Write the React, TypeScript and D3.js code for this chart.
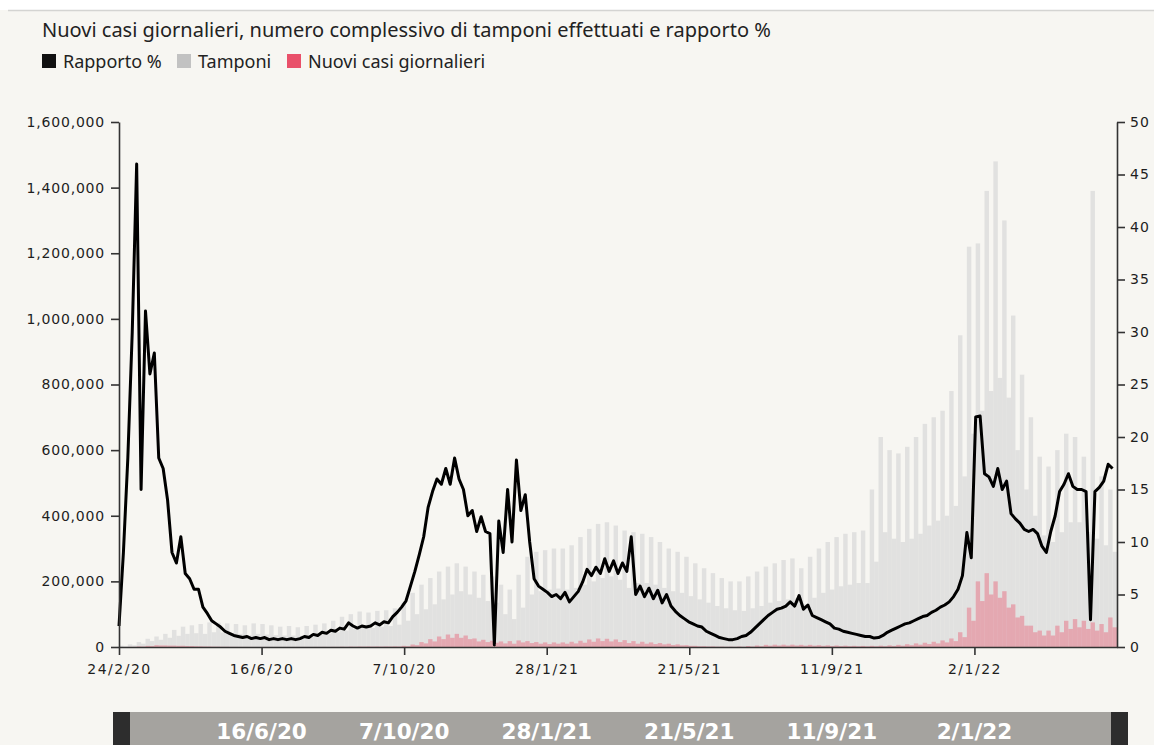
import React, { useEffect, useRef } from 'react';
import * as d3 from 'd3';

// half-week samples starting 24/2/2020 (weekday value, weekend value)
const START = '2020-02-24';
const END = '2022-04-25';
const STEP_DAYS = 3.5;

const xTickDates = ['2020-02-24', '2020-06-16', '2020-10-07', '2021-01-28', '2021-05-21', '2021-09-11', '2022-01-02'];
const xTickLabels = ['24/2/20', '16/6/20', '7/10/20', '28/1/21', '21/5/21', '11/9/21', '2/1/22'];
const leftTicks = [0, 200000, 400000, 600000, 800000, 1000000, 1200000, 1400000, 1600000];
const rightTicks = [0, 5, 10, 15, 20, 25, 30, 35, 40, 45, 50];

// tamponi, thousands
const tamponi = [
  4, 2, 8, 5, 15, 10, 25, 18,
  32, 22, 40, 28, 52, 34, 62, 40,
  66, 42, 70, 40, 75, 45, 74, 44,
  72, 42, 70, 40, 66, 36, 72, 40,
  70, 38, 66, 36, 62, 35, 64, 35,
  60, 34, 64, 36, 68, 38, 72, 40,
  80, 45, 92, 50, 100, 55, 108, 60,
  105, 58, 110, 62, 112, 64, 118, 68,
  135, 80, 165, 100, 190, 115, 210, 130,
  230, 145, 245, 160, 255, 170, 245, 160,
  230, 150, 220, 140, 215, 135, 190, 100,
  175, 85, 220, 120, 275, 160, 290, 170,
  295, 175, 300, 178, 300, 175, 310, 180,
  335, 190, 360, 200, 375, 210, 380, 215,
  370, 205, 355, 180, 350, 195, 345, 195,
  335, 190, 320, 180, 300, 170, 290, 165,
  275, 155, 255, 145, 240, 135, 225, 125,
  210, 118, 200, 112, 200, 110, 215, 118,
  230, 125, 245, 135, 255, 140, 265, 145,
  270, 148, 240, 130, 275, 150, 300, 165,
  320, 175, 335, 185, 345, 190, 350, 195,
  355, 195, 480, 260, 640, 350, 600, 330,
  590, 320, 610, 330, 640, 345, 680, 370,
  700, 385, 720, 400, 780, 430, 950, 520,
  1220, 650, 1230, 720, 1390, 780, 1480, 820,
  1300, 760, 1010, 600, 830, 480, 700, 400,
  580, 340, 550, 320, 600, 350, 650, 380,
  640, 380, 580, 350, 1390, 330, 520, 310,
  480, 290,
];

// nuovi casi, thousands
const casi = [
  0.1, 0.1, 0.5, 0.4, 1.8, 1.5, 3.5, 3.0,
  5.5, 4.8, 4.8, 4.2, 4.2, 3.6, 3.8, 3.0,
  3.0, 2.3, 2.1, 1.6, 1.5, 1.1, 1.0, 0.7,
  0.7, 0.5, 0.5, 0.35, 0.35, 0.3, 0.3, 0.25,
  0.3, 0.2, 0.25, 0.2, 0.22, 0.18, 0.2, 0.15,
  0.25, 0.18, 0.3, 0.22, 0.35, 0.25, 0.4, 0.3,
  0.55, 0.4, 0.9, 0.6, 1.3, 0.9, 1.5, 1.2,
  1.6, 1.3, 1.6, 1.3, 1.7, 1.4, 1.9, 1.5,
  3.5, 2.5, 7.5, 5.5, 15, 11, 24, 17,
  32, 24, 38, 28, 40, 28, 35, 24,
  26, 17, 22, 15, 19, 13, 17, 11,
  18, 10, 20, 14, 18, 12, 15, 10,
  14, 9, 14, 10, 14, 10, 16, 11,
  19, 13, 23, 16, 26, 18, 25, 17,
  23, 15, 21, 12, 18, 10, 16, 10,
  14, 9, 12, 8, 10, 6, 8, 5,
  5.5, 3.5, 3.5, 2.2, 2.5, 1.5, 1.8, 1.0,
  1.2, 0.7, 1.0, 0.6, 1.5, 0.8, 3.0, 1.5,
  4.5, 2.5, 6.5, 4, 7, 4.5, 7, 4.5,
  7, 4.5, 6.5, 4, 6.5, 4, 5.5, 3.5,
  5, 3, 4.5, 2.8, 4, 2.5, 3.5, 2.2,
  3.2, 2, 3.5, 2.2, 4, 2.5, 5, 3.2,
  6.5, 4, 8.5, 5.5, 11, 7, 13, 9,
  16, 11, 20, 14, 26, 18, 45, 30,
  120, 80, 200, 140, 225, 160, 200, 150,
  170, 120, 130, 90, 95, 65, 65, 45,
  50, 35, 50, 35, 65, 45, 80, 55,
  85, 60, 80, 55, 75, 50, 70, 45,
  90, 60,
];

// rapporto %, right axis
const rapporto = [
  2, 9, 18, 30, 46, 15, 32, 26, 28, 18, 17, 14, 9, 8, 10.5, 7, 6.5, 5.5, 5.5,
  3.8, 3.2, 2.5, 2.2, 1.9, 1.5, 1.3, 1.1, 1.0, 0.9, 1.0, 0.8, 0.9, 0.8, 0.9, 0.7, 0.8, 0.7, 0.8,
  0.7, 0.8, 0.7, 0.8, 1.0, 0.9, 1.2, 1.1, 1.4, 1.3, 1.6, 1.5, 1.8, 1.7, 2.3, 2.0, 1.8, 2.0, 1.9,
  2.0, 2.3, 2.1, 2.4, 2.3, 2.9, 3.3, 3.8, 4.4, 5.8, 7.2, 8.8, 10.5, 13.3, 14.8, 16, 15.5, 17, 15.5,
  18, 16, 15, 12.5, 13, 11, 12.4, 11, 10.8, 0.2, 12, 9, 15, 10, 17.8, 13, 14.5, 10, 6.5,
  5.8, 5.5, 5.2, 4.8, 5.0, 4.6, 5.2, 4.3, 4.8, 5.3, 6.2, 7.4, 6.8, 7.6, 7.0, 8.4, 7.2, 8.2, 7.0,
  8.0, 7.2, 10.5, 5.0, 5.8, 4.8, 5.6, 4.6, 5.4, 4.2, 5.0, 3.9, 3.4, 3.0, 2.7, 2.4, 2.2, 2.0, 1.9,
  1.5, 1.3, 1.1, 0.9, 0.8, 0.7, 0.7, 0.8, 1.0, 1.1, 1.4, 1.8, 2.2, 2.6, 3.0, 3.3, 3.6, 3.7, 3.9,
  4.3, 3.9, 4.9, 3.6, 4.0, 3.0, 2.8, 2.6, 2.4, 2.2, 1.8, 1.7, 1.5, 1.4, 1.3, 1.2, 1.1, 1.0, 1.0,
  0.85, 0.9, 1.1, 1.4, 1.6, 1.8, 2.0, 2.2, 2.3, 2.5, 2.7, 2.9, 3.0, 3.3, 3.5, 3.8, 4.0, 4.3, 4.8,
  5.5, 6.8, 10.9, 8.5, 21.9, 22.0, 16.5, 16.2, 15.3, 17.0, 15.0, 15.8, 12.7, 12.2, 11.8, 11.2, 11.0, 11.2, 10.8,
  9.6, 9.0, 11.0, 12.5, 14.8, 15.5, 16.5, 15.3, 15.0, 15.0, 14.8, 2.6, 14.8, 15.2, 15.8, 17.4, 17.0,
];

const legendItems = [
  { label: 'Rapporto %', color: '#111111', x: 0 },
  { label: 'Tamponi', color: '#c2c2c2', x: 135 },
  { label: 'Nuovi casi giornalieri', color: '#e9506a', x: 245 },
];

const TITLE = 'Nuovi casi giornalieri, numero complessivo di tamponi effettuati e rapporto %';
const AXIS_FONT = '"DejaVu Sans", sans-serif';
const TEXT_FONT = '"Noto Sans", sans-serif';

export default function App() {
  const svgRef = useRef<SVGSVGElement>(null);

  useEffect(() => {
    if (!svgRef.current) return;
    const width = 1154;
    const height = 745;
    const left = 119;
    const right = 1117;
    const top = 122;
    const bottom = 647;

    const svg = d3.select(svgRef.current);
    svg.selectAll('*').remove();

    const parse = d3.utcParse('%Y-%m-%d');
    const t0 = parse(START)!;
    const dayMs = 864e5;
    const dateAt = (i: number) => new Date(t0.getTime() + i * STEP_DAYS * dayMs);

    const x = d3.scaleUtc().domain([t0, parse(END)!]).range([left, right]);
    const yL = d3.scaleLinear().domain([0, 1600000]).range([bottom, top]);
    const yR = d3.scaleLinear().domain([0, 50]).range([bottom, top]);

    // background
    svg.append('rect').attr('width', width).attr('height', height).attr('fill', '#f7f6f2');
    svg.append('rect').attr('width', width).attr('height', 10).attr('fill', '#ffffff');
    svg.append('line')
      .attr('x1', 8).attr('x2', width).attr('y1', 10.5).attr('y2', 10.5)
      .attr('stroke', '#d4d4d2').attr('stroke-width', 1.5);

    // title + legend
    svg.append('text')
      .attr('x', 42).attr('y', 37)
      .style('font-family', TEXT_FONT).style('font-size', '20px')
      .attr('fill', '#222')
      .text(TITLE);

    const legend = svg.append('g').attr('transform', 'translate(42, 54)');
    legendItems.forEach(item => {
      legend.append('rect').attr('x', item.x).attr('y', 0).attr('width', 14).attr('height', 14).attr('fill', item.color);
      legend.append('text')
        .attr('x', item.x + 21).attr('y', 14)
        .style('font-family', TEXT_FONT).style('font-size', '18px')
        .attr('fill', '#222')
        .text(item.label);
    });

    const bw = x(dateAt(1)) - x(dateAt(0));

    // tamponi bars
    svg.append('g').selectAll('rect')
      .data(tamponi)
      .join('rect')
      .attr('x', (d, i) => x(dateAt(i)))
      .attr('width', bw)
      .attr('y', d => yL(d * 1000))
      .attr('height', d => bottom - yL(d * 1000))
      .attr('fill', '#d8d8d8')
      .attr('opacity', 0.72);

    // casi bars
    svg.append('g').selectAll('rect')
      .data(casi)
      .join('rect')
      .attr('x', (d, i) => x(dateAt(i)))
      .attr('width', bw)
      .attr('y', d => yL(d * 1000))
      .attr('height', d => bottom - yL(d * 1000))
      .attr('fill', '#e8536b')
      .attr('opacity', 0.4);

    // rapporto line
    const line = d3.line<number>()
      .x((d, i) => x(dateAt(i)))
      .y(d => yR(d))
      .curve(d3.curveLinear);

    svg.append('path')
      .datum(rapporto)
      .attr('d', line)
      .attr('fill', 'none')
      .attr('stroke', '#000')
      .attr('stroke-width', 3)
      .attr('stroke-linejoin', 'round');

    const styleAxis = (g: any, ls: string) => {
      g.select('.domain').attr('stroke', '#333').attr('stroke-width', 1.6);
      g.selectAll('.tick line').attr('stroke', '#333').attr('stroke-width', 1.6);
      g.selectAll('.tick text')
        .style('font-family', AXIS_FONT)
        .style('font-size', '14px')
        .style('letter-spacing', ls)
        .attr('fill', '#1e1e1e');
    };

    const gl = svg.append('g')
      .attr('transform', `translate(${left},0)`)
      .call(d3.axisLeft(yL).tickValues(leftTicks).tickFormat(d3.format(',')).tickSize(8).tickSizeOuter(0).tickPadding(6));
    styleAxis(gl, '0.8px');

    const gr = svg.append('g')
      .attr('transform', `translate(${right},0)`)
      .call(d3.axisRight(yR).tickValues(rightTicks).tickSize(8).tickSizeOuter(0).tickPadding(5));
    styleAxis(gr, '1px');

    const tickDates = xTickDates.map(d => parse(d)!);
    const gb = svg.append('g')
      .attr('transform', `translate(0,${bottom})`)
      .call(d3.axisBottom(x).tickValues(tickDates).tickFormat((d, i) => xTickLabels[i]).tickSize(8).tickSizeOuter(0).tickPadding(9));
    styleAxis(gb, '1.5px');

    // navigator
    const nav = svg.append('g');
    nav.append('rect').attr('x', 113).attr('y', 712).attr('width', 1015).attr('height', 40).attr('fill', '#a5a39f');
    nav.append('rect').attr('x', 113).attr('y', 712).attr('width', 17).attr('height', 40).attr('fill', '#2d2d2d');
    nav.append('rect').attr('x', 1111).attr('y', 712).attr('width', 17).attr('height', 40).attr('fill', '#2d2d2d');
    nav.selectAll('text.nav')
      .data(tickDates.slice(1))
      .join('text')
      .attr('class', 'nav')
      .attr('x', d => x(d))
      .attr('y', 739)
      .attr('text-anchor', 'middle')
      .style('font-family', AXIS_FONT)
      .style('font-size', '21.5px')
      .style('font-weight', 'bold')
      .attr('fill', '#ffffff')
      .text((d, i) => xTickLabels[i + 1]);
  }, []);

  return (
    <svg
      ref={svgRef}
      width={1154}
      height={745}
      style={{ position: 'absolute', left: 0, top: 0, display: 'block' }}
    />
  );
}
